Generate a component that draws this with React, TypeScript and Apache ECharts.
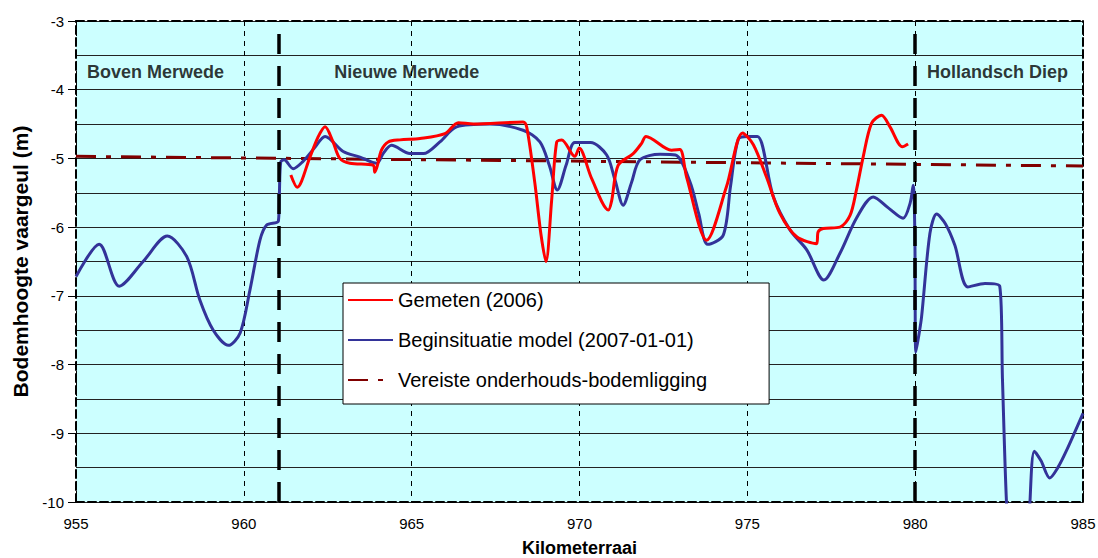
import React, { useEffect, useRef } from "react";
import * as echarts from "echarts";

// Riverbed level along the river kilometre (km, m)
const gemeten2006: [number, number][] = [
  [961.4, -5.24], [961.59, -5.42], [961.97, -4.98], [962.2, -4.7], [962.42, -4.54],
  [962.65, -4.75], [962.86, -5.0], [963.16, -5.07], [963.86, -5.1], [963.9, -5.2],
  [963.97, -5.12], [964.1, -4.88], [964.3, -4.76], [964.65, -4.73], [965.25, -4.71],
  [965.99, -4.64], [966.39, -4.48], [966.84, -4.5], [968.32, -4.47], [968.43, -4.55],
  [968.67, -5.36], [968.85, -6.1], [969.0, -6.5], [969.17, -5.61], [969.32, -4.76],
  [969.47, -4.73], [969.86, -4.97], [969.99, -4.85], [970.36, -5.29], [970.86, -5.75],
  [970.96, -5.61], [971.15, -5.1], [971.6, -4.93], [971.85, -4.78], [971.98, -4.68],
  [972.74, -4.88], [972.99, -4.87], [973.19, -5.27], [973.79, -6.19], [974.38, -5.41],
  [974.86, -4.63], [975.18, -4.8], [975.57, -5.27], [975.97, -5.8], [976.47, -6.14],
  [977.06, -6.24], [977.11, -6.07], [977.26, -6.02], [977.76, -6.0], [978.06, -5.83],
  [978.25, -5.46], [978.45, -4.98], [978.7, -4.49], [979.0, -4.37], [979.25, -4.54],
  [979.62, -4.83], [979.79, -4.79],
];

const beginsituatie: [number, number][] = [
  [955.0, -6.72], [955.69, -6.25], [956.29, -6.86], [957.0, -6.5], [957.72, -6.13],
  [958.3, -6.43], [958.69, -7.06], [959.09, -7.5], [959.54, -7.72], [959.89, -7.54],
  [960.18, -6.92], [960.48, -6.19], [960.68, -5.97], [961.03, -5.91], [961.06, -5.5],
  [961.1, -5.05], [961.2, -5.02], [961.47, -5.15], [961.75, -5.05], [962.1, -4.85],
  [962.42, -4.68], [962.96, -4.9], [963.46, -4.98], [963.96, -5.07], [964.15, -4.93],
  [964.4, -4.81], [964.95, -4.93], [965.35, -4.93], [965.84, -4.76], [966.34, -4.54],
  [967.33, -4.5], [968.32, -4.59], [968.82, -4.76], [969.1, -5.1], [969.34, -5.46],
  [969.6, -5.1], [969.86, -4.77], [970.33, -4.77], [970.81, -4.95], [971.05, -5.3],
  [971.3, -5.68], [971.55, -5.35], [971.8, -5.02], [972.4, -4.94], [972.86, -4.95],
  [973.29, -5.34], [973.55, -5.8], [973.82, -6.25], [974.28, -6.12], [974.5, -5.4],
  [974.73, -4.72], [975.0, -4.68], [975.3, -4.68], [975.77, -5.55], [976.27, -6.04],
  [976.77, -6.33], [977.28, -6.77], [977.76, -6.38], [978.25, -5.87], [978.75, -5.56],
  [979.2, -5.72], [979.64, -5.87], [979.85, -5.65], [979.94, -5.39], [979.99, -6.09],
  [980.02, -7.82], [980.1, -7.6], [980.19, -7.31], [980.44, -6.09], [980.64, -5.81],
  [980.9, -5.95], [981.18, -6.26], [981.57, -6.87], [982.08, -6.82], [982.52, -6.86],
  [982.6, -8.2], [982.72, -10.0], [982.9, -11.5], [983.3, -11.5], [983.42, -10.0],
  [983.55, -9.26], [983.75, -9.4], [984.01, -9.65], [984.25, -9.5], [984.51, -9.25],
  [985.0, -8.71],
];

const vereisteBodem: [number, number][] = [
  [955, -4.97],
  [985, -5.11],
];

// River section boundaries (km)
const sectionBounds: number[] = [961.05, 980];

// Section names anchored at (km, m)
const sectionNames: { name: string; km: number; depth: number }[] = [
  { name: "Boven Merwede", km: 955.33, depth: -3.74 },
  { name: "Nieuwe Merwede", km: 962.69, depth: -3.74 },
  { name: "Hollandsch Diep", km: 980.35, depth: -3.74 },
];

const seriesNames = [
  "Gemeten (2006)",
  "Beginsituatie model (2007-01-01)",
  "Vereiste onderhouds-bodemligging",
];

const FONT = "'Liberation Sans', Arial, sans-serif";

export default function App() {
  const ref = useRef<HTMLDivElement>(null);

  useEffect(() => {
    document.body.style.margin = "0";
    if (!ref.current) return;
    const chart = echarts.init(ref.current, undefined, { renderer: "svg" });

    const dashedBorder = { show: true, lineStyle: { color: "#000", width: 2, type: [8, 4] as any } };

    chart.setOption({
      animation: false,
      textStyle: { fontFamily: FONT },
      grid: {
        left: 76,
        right: 15,
        top: 21,
        bottom: 56,
        show: true,
        containLabel: false,
        outerBoundsMode: "none",
        backgroundColor: "#CCFFFF",
        borderWidth: 0,
      },
      legend: {
        data: seriesNames,
        orient: "vertical",
        left: 343,
        top: 283,
        padding: [7, 62, 14, 4],
        itemGap: 20,
        itemWidth: 45,
        itemHeight: 14,
        backgroundColor: "#fff",
        borderColor: "#000",
        borderWidth: 1,
        itemStyle: { opacity: 0 },
        textStyle: { fontSize: 20, color: "#000", fontFamily: FONT },
      },
      xAxis: [
        {
          type: "value",
          min: 955,
          max: 985,
          interval: 5,
          position: "bottom",
          axisLine: dashedBorder,
          axisTick: { show: false },
          axisLabel: { color: "#000", fontSize: 15, margin: 14, fontFamily: FONT },
          splitLine: { show: true, lineStyle: { color: "#000", width: 1, type: [5, 5] } },
          name: "Kilometerraai",
          nameLocation: "middle",
          nameGap: 37,
          nameTextStyle: { fontSize: 18, fontWeight: "bold", color: "#000", fontFamily: FONT },
        },
        {
          type: "value",
          min: 955,
          max: 985,
          interval: 5,
          position: "top",
          axisLine: dashedBorder,
          axisTick: { show: false },
          axisLabel: { show: false },
          splitLine: { show: false },
        },
      ],
      yAxis: [
        {
          type: "value",
          min: -10,
          max: -3,
          interval: 1,
          position: "left",
          axisLine: dashedBorder,
          axisTick: { show: true, length: 8, lineStyle: { color: "#000", width: 1 } },
          axisLabel: { color: "#000", fontSize: 15, margin: 12, fontFamily: FONT },
          splitLine: { show: true, lineStyle: { color: "#222", width: 1 } },
          minorTick: { show: false, splitNumber: 2 },
          minorSplitLine: { show: true, lineStyle: { color: "#222", width: 1 } },
          name: "Bodemhoogte vaargeul (m)",
          nameLocation: "middle",
          nameGap: 41,
          nameTextStyle: { fontSize: 21, fontWeight: "bold", color: "#000", fontFamily: FONT },
        },
        {
          type: "value",
          min: -10,
          max: -3,
          interval: 1,
          position: "right",
          axisLine: dashedBorder,
          axisTick: { show: false },
          axisLabel: { show: false },
          splitLine: { show: false },
        },
      ],
      series: [
        {
          name: "Vereiste onderhouds-bodemligging",
          type: "line",
          data: vereisteBodem,
          symbol: "none",
          z: 3,
          lineStyle: { color: "#800000", width: 3, type: [20, 10, 5, 10] },
          itemStyle: { color: "#800000" },
        },
        {
          name: "Beginsituatie model (2007-01-01)",
          type: "line",
          data: beginsituatie,
          symbol: "none",
          smooth: 0.3,
          clip: true,
          z: 4,
          lineStyle: { color: "#333399", width: 3 },
          itemStyle: { color: "#333399" },
        },
        {
          name: "Gemeten (2006)",
          type: "line",
          data: gemeten2006,
          symbol: "none",
          smooth: 0.3,
          z: 5,
          lineStyle: { color: "#FF0000", width: 3 },
          itemStyle: { color: "#FF0000" },
        },
        {
          name: "sections",
          type: "line",
          data: [],
          symbol: "none",
          markLine: {
            silent: true,
            symbol: "none",
            label: { show: false },
            lineStyle: { color: "#000", width: 3.5, type: [20, 12] },
            data: sectionBounds.map((km) => ({ xAxis: km })),
          },
          z: 6,
        },
        {
          name: "sectionNames",
          type: "scatter",
          symbolSize: 0,
          data: sectionNames.map((s) => ({ name: s.name, value: [s.km, s.depth] })),
          label: {
            show: true,
            position: "right",
            distance: 0,
            formatter: (p: any) => p.name,
            fontSize: 18,
            fontWeight: "bold",
            color: "#000",
            fontFamily: FONT,
          },
          z: 7,
        },
      ],
    });

    return () => chart.dispose();
  }, []);

  return <div ref={ref} style={{ width: 1098, height: 558 }} />;
}
